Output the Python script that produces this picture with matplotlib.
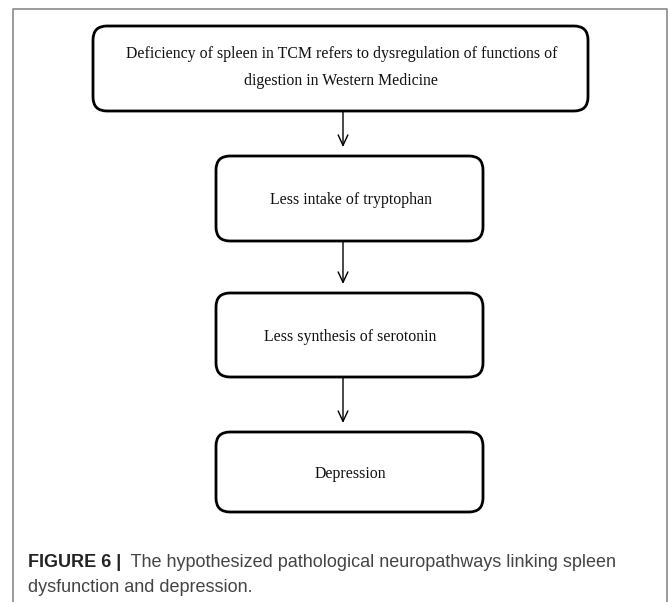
import matplotlib
matplotlib.use("Agg")
import matplotlib.pyplot as plt
from matplotlib.patches import FancyBboxPatch

# flowchart content
box_labels = [
    "Deficiency of spleen in TCM refers to dysregulation of functions of\ndigestion in Western Medicine",
    "Less intake of tryptophan",
    "Less synthesis of serotonin",
    "Depression",
]
caption_bold = "FIGURE 6 |"
caption_rest = "  The hypothesized pathological neuropathways linking spleen"
caption_line2 = "dysfunction and depression."

# layout in pixels (x0, x1, y0, y1), y from top
box_pos = [(93, 588, 26, 111), (216, 483, 156, 241), (216, 483, 293, 377), (216, 483, 432, 512)]
arrow_x = 343
arrow_gap = 9

W, H = 668, 602
fig = plt.figure(figsize=(W / 100, H / 100), dpi=100)
ax = fig.add_axes([0, 0, 1, 1])
ax.set_xlim(0, W)
ax.set_ylim(H, 0)
ax.axis("off")

# outer frame (no bottom edge)
ax.plot([13, 13, 667, 667], [H, 9, 9, H], color="#8a8a8a", lw=1.2)

for (x0, x1, y0, y1), lab in zip(box_pos, box_labels):
    ax.add_patch(FancyBboxPatch((x0, y0), x1 - x0, y1 - y0,
                                boxstyle="round,pad=0,rounding_size=14",
                                fc="white", ec="black", lw=2))
    dy = -1 if "\n" in lab else 2
    ax.text((x0 + x1) / 2 + 1, (y0 + y1) / 2 + dy, lab, ha="center", va="center",
            family="Liberation Serif", fontsize=11.4, linespacing=1.9,
            color="#111111")

for a, b in zip(box_pos[:-1], box_pos[1:]):
    ax.annotate("", xy=(arrow_x, b[2] - arrow_gap), xytext=(arrow_x, a[3]),
                arrowprops=dict(arrowstyle="->,head_length=0.75,head_width=0.35",
                                lw=1, color="black", shrinkA=0, shrinkB=0))

# caption
t = ax.text(28, 567, caption_bold, family="Liberation Sans", fontweight="bold",
            fontsize=13, color="#222222", va="baseline")
fig.canvas.draw()
bb = t.get_window_extent(fig.canvas.get_renderer())
xr = ax.transData.inverted().transform((bb.x1, 0))[0]
ax.text(xr, 567, caption_rest, family="Liberation Sans", fontsize=13,
        color="#444444", va="baseline")
ax.text(28, 592, caption_line2, family="Liberation Sans", fontsize=13,
        color="#444444", va="baseline")

fig.savefig("out.png", dpi=100)
